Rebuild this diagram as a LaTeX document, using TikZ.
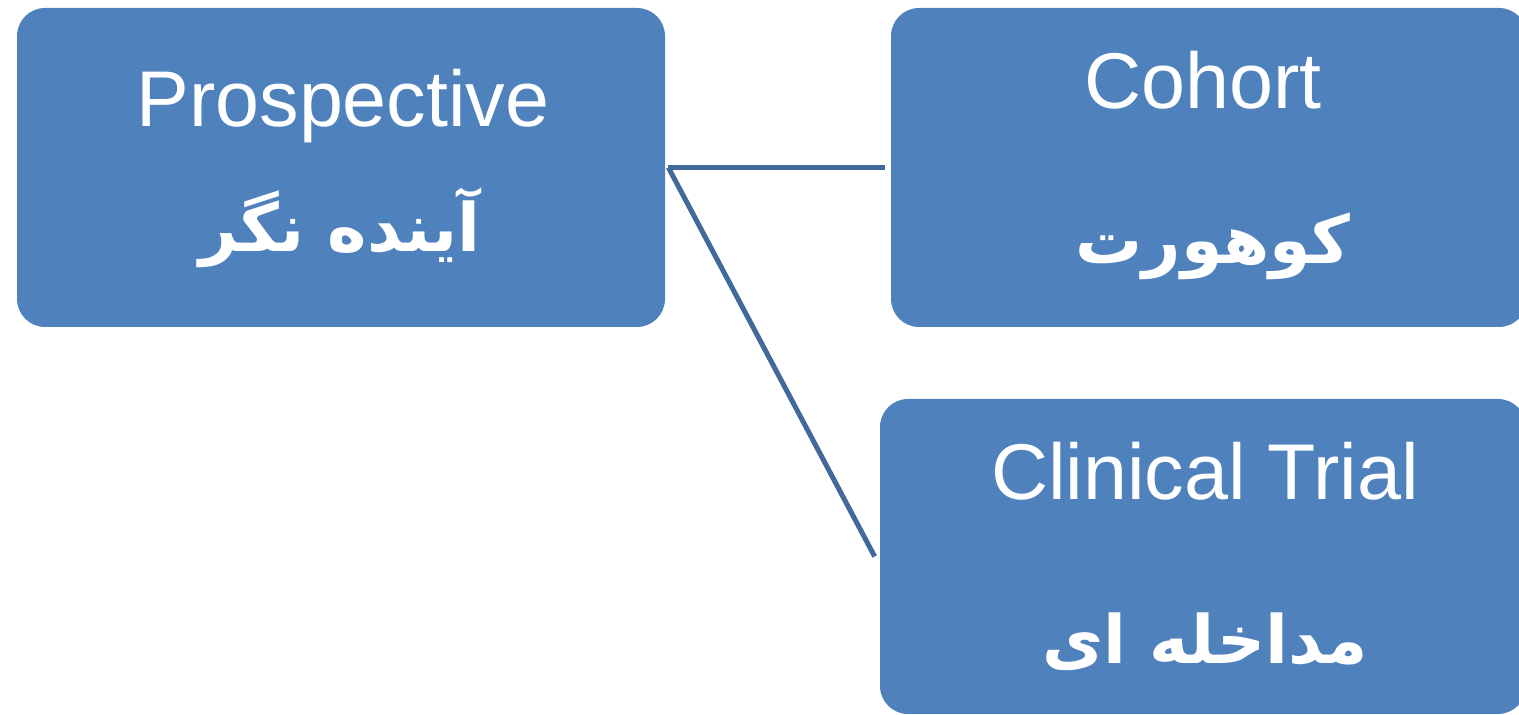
\documentclass[tikz,border=0pt]{standalone}
\usepackage{fontspec}
\setmainfont{Liberation Sans}
\newfontfamily\arabicfont[Script=Arabic]{DejaVu Sans}
\TeXXeTstate=1
\usetikzlibrary{calc}
\definecolor{boxblue}{HTML}{4F81BD}
\definecolor{linkblue}{HTML}{41699A}
\tikzset{
  box/.style={draw=none, fill=boxblue, rounded corners=28*0.02cm, inner sep=0pt},
  lat/.style={text=white, font=\fontsize{45}{50}\selectfont, inner sep=0pt},
  per/.style={text=white, font=\arabicfont\bfseries\fontsize{38}{46}\selectfont, inner sep=0pt},
  link/.style={draw=linkblue, line width=0.1cm, line cap=butt}
}
\begin{document}
\begin{tikzpicture}[x=0.02cm, y=-0.02cm]
\useasboundingbox (0,0) rectangle (1519,715);
\clip (0,0) rectangle (1519,715);
\node[box, minimum width=648*0.02cm, minimum height=319*0.02cm] (p) at (341,167.5) {};
\node[box, minimum width=636*0.02cm, minimum height=319*0.02cm] (co) at (1209,167.5) {};
\node[box, minimum width=646*0.02cm, minimum height=315*0.02cm] (ct) at (1203,556.5) {};
\node[lat] (pl) at (343,106) {Prospective};
\node[per] (pp) at (340,228) {\beginR آینده نگر\endR};
\node[lat] (cl) at (1203,80) {Cohort};
\node[per] (cp) at (1213,246) {\beginR کوهورت\endR};
\node[lat] (tl) at (1205,471) {Clinical Trial};
\node[per] (tp) at (1205,642) {\beginR مداخله ای\endR};
\coordinate (s) at ($(p.east)+(3,0)$);
\draw[link] (s) -- ($(co.west)+(-6,0)$);
\draw[link] (s) -- ($(ct.west)+(-5,0)$);
\end{tikzpicture}
\end{document}
